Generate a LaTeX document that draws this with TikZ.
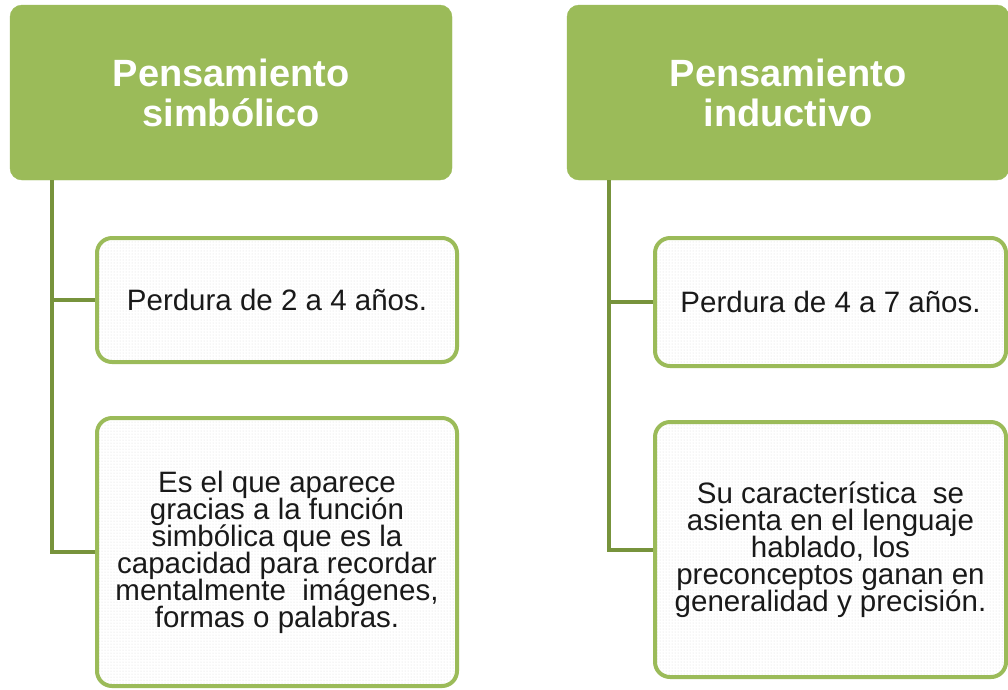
\documentclass[tikz,border=0pt]{standalone}
\usepackage{fontspec}
\setmainfont{Liberation Sans}
\usepackage{tikz}
\usetikzlibrary{
  patterns,
  calc}

\definecolor{hdrgreen}{HTML}{9BBB59}
\definecolor{trunkgreen}{HTML}{77933C}

\tikzset{
  header/.style={
    rounded corners=12pt,
    fill=hdrgreen,
    draw=hdrgreen,
    text=white,
    align=center,
    inner sep=0pt,
    minimum width=442pt,
    minimum height=175pt,
    font={\fontsize{38}{40}\selectfont\bfseries\lineskiplimit=-100pt},
  },
  leaf/.style={
    rounded corners=15pt,
    draw=hdrgreen,
    line width=4pt,
    preaction={fill=white},
    pattern=dots,
    pattern color=black!14,
    text=black!90,
    align=center,
    inner sep=0pt,
    font={\fontsize{29.5}{27}\selectfont\lineskiplimit=-100pt},
  },
  branch/.style={
    draw=trunkgreen,
    line width=4pt,
  },
}

\begin{document}
\begin{tikzpicture}[x=1pt,y=-1pt]
\useasboundingbox (0,0) rectangle (1008,689);

% headers
\node[header] (hdrA) at (231,92.5) {Pensamiento\\simbólico};
\node[header] (hdrB) at (788,92.5) {Pensamiento\\inductivo};

% leaves
\node[leaf, minimum width=360pt, minimum height=124pt] (leafA1) at (277,300)
  {Perdura de 2 a 4 años.};
\node[leaf, minimum width=360pt, minimum height=268pt] (leafA2) at (277,552)
  {Es el que aparece\\gracias a la función\\simbólica que es la\\capacidad para recordar\\mentalmente\ \ imágenes,\\formas o palabras.};
\node[leaf, minimum width=351pt, minimum height=128pt] (leafB1) at (830.5,302)
  {Perdura de 4 a 7 años.};
\node[leaf, minimum width=351pt, minimum height=255pt] (leafB2) at (830.5,549.5)
  {Su característica\ \ se\\asienta en el lenguaje\\hablado, los\\preconceptos ganan en\\generalidad y precisión.};

% trunks and branches
\coordinate (trunkA) at ($(hdrA.south west)+(42,0)$);
\coordinate (trunkB) at ($(hdrB.south west)+(42,0)$);
\foreach \t/\k in {A/1,B/1} {
  \draw[branch] (trunk\t |- leaf\t\k.west) -- (leaf\t\k.west);
}
\foreach \t in {A,B} {
  \draw[branch] (trunk\t) |- (leaf\t2.west);
}
\end{tikzpicture}
\end{document}
